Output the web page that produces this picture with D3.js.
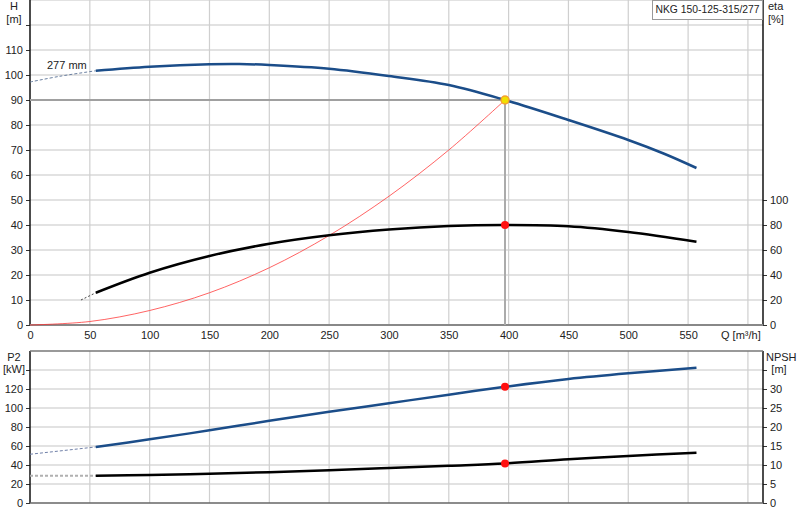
<!DOCTYPE html>
<html>
<head>
<meta charset="utf-8">
<script src="https://cdn.jsdelivr.net/npm/d3@7"></script>
<style>
  body { margin: 0; background: #fff; }
  svg { display: block; font-family: "Liberation Sans", Arial, sans-serif; }
  .lbl { font-size: 11px; fill: #222; }
</style>
</head>
<body>
<svg id="chart" width="800" height="520"></svg>
<script>
// pump model
const pumpName = "NKG 150-125-315/277";
const impeller = "277 mm";

// flow ticks
const qTicks = [0, 50, 100, 150, 200, 250, 300, 350, 400, 450, 500, 550];
const qGrid = [50, 100, 150, 200, 250, 300, 350, 400, 450, 500, 550, 600];

// head curve H [m]
const qHeadDash = [0, 25, 55];
const headDash = [97.2, 99.5, 101.7];
const qHead = [55, 100, 150, 175, 200, 250, 300, 350, 397, 450, 500, 530, 557];
const head = [101.7, 103.3, 104.3, 104.4, 104.0, 102.5, 99.6, 96.0, 90.0, 82.0, 74.0, 68.5, 62.8];

// efficiency eta [%]
const qEtaDash = [42.6, 55];
const etaDash = [20, 25.8];
const qEta = [55, 100, 150, 200, 250, 300, 350, 397, 450, 500, 557];
const eta = [25.8, 41.8, 55.2, 65.0, 71.8, 76.4, 79.2, 80.0, 79.0, 74.4, 66.6];

// system curve H [m]
const qSys = [0, 50, 100, 150, 200, 250, 300, 350, 397];
const hSys = [0, 1.4, 5.8, 12.9, 22.9, 35.8, 51.5, 70.0, 90.0];

// power P2 [kW]
const qP2Dash = [0, 55];
const p2Dash = [51.3, 59.0];
const qP2 = [55, 100, 150, 200, 250, 300, 350, 397, 450, 500, 557];
const p2 = [59.0, 67.0, 76.5, 86.5, 96.0, 105.0, 114.0, 122.3, 130.5, 136.5, 142.3];

// NPSH [m]
const qNpshDash = [0, 55];
const npshDash = [7.2, 7.2];
const qNpsh = [55, 100, 150, 200, 250, 300, 350, 397, 450, 500, 557];
const npsh = [7.2, 7.4, 7.7, 8.1, 8.6, 9.2, 9.8, 10.4, 11.5, 12.4, 13.2];

// duty point
const dutyQ = 397, dutyH = 90, dutyEta = 80, dutyP2 = 122.3, dutyNpsh = 10.4;

const hTicks = [0, 10, 20, 30, 40, 50, 60, 70, 80, 90, 100, 110];
const etaTicks = [0, 20, 40, 60, 80, 100];
const p2Ticks = [0, 20, 40, 60, 80, 100, 120];
const npshTicks = [0, 5, 10, 15, 20, 25, 30];

const svg = d3.select("#chart");
const left = 30, right = 763;
const topT = 0, botT = 325, topB = 351, botB = 503;

const x = d3.scaleLinear().domain([0, 612.6]).range([left, right]);
const yH = d3.scaleLinear().domain([0, 130]).range([botT, topT]);
const yEta = d3.scaleLinear().domain([0, 260]).range([botT, topT]);
const yP2 = d3.scaleLinear().domain([0, 160]).range([botB, topB]);
const yNpsh = d3.scaleLinear().domain([0, 40]).range([botB, topB]);

function zip(a, b) { return a.map((v, i) => [v, b[i]]); }

// grid
function grid(yScale, vals, y0, y1) {
  svg.append("g").selectAll("line").data(vals).join("line")
    .attr("x1", left).attr("x2", right)
    .attr("y1", d => yScale(d)).attr("y2", d => yScale(d))
    .attr("stroke", "#e2e2e2").attr("stroke-width", 2);
  svg.append("g").selectAll("line").data(qGrid).join("line")
    .attr("x1", d => x(d)).attr("x2", d => x(d))
    .attr("y1", y0).attr("y2", y1)
    .attr("stroke", "#cfcfcf").attr("stroke-width", 1.2);
}
grid(yH, d3.range(10, 131, 10), topT, botT);
grid(yP2, d3.range(20, 141, 20), topB, botB);

// axes top
const axT = svg.append("g");
axT.append("g").attr("transform", `translate(${left},0)`)
  .call(d3.axisLeft(yH).tickValues(hTicks.concat([120])).tickSize(4).tickFormat(d => d > 110 ? "" : d));
axT.append("g").attr("transform", `translate(${right},0)`)
  .call(d3.axisRight(yEta).tickValues(etaTicks).tickSize(4));
axT.append("g").attr("transform", `translate(0,${botT})`)
  .call(d3.axisBottom(x).tickValues(qTicks).tickSize(0).tickPadding(6));

// axes bottom
const axB = svg.append("g");
axB.append("g").attr("transform", `translate(${left},0)`)
  .call(d3.axisLeft(yP2).tickValues(p2Ticks.concat([140])).tickSize(4).tickFormat(d => d > 120 ? "" : d));
axB.append("g").attr("transform", `translate(${right},0)`)
  .call(d3.axisRight(yNpsh).tickValues(npshTicks.concat([35])).tickSize(4).tickFormat(d => d > 30 ? "" : d));

svg.selectAll(".tick text").attr("font-size", 11).attr("fill", "#222")
  .attr("font-family", "Liberation Sans, Arial, sans-serif");
svg.selectAll(".domain").remove();
svg.selectAll(".tick line").attr("stroke", "#333");

// axis frame lines
svg.append("line").attr("x1", left).attr("x2", left).attr("y1", topT).attr("y2", botT)
  .attr("stroke", "#111").attr("stroke-width", 1.5);
svg.append("line").attr("x1", right).attr("x2", right).attr("y1", topT).attr("y2", botT)
  .attr("stroke", "#111").attr("stroke-width", 1.5);
svg.append("line").attr("x1", left).attr("x2", right).attr("y1", botT).attr("y2", botT)
  .attr("stroke", "#888").attr("stroke-width", 2);
svg.append("line").attr("x1", left).attr("x2", left).attr("y1", topB).attr("y2", botB)
  .attr("stroke", "#111").attr("stroke-width", 1.5);
svg.append("line").attr("x1", right).attr("x2", right).attr("y1", topB).attr("y2", botB)
  .attr("stroke", "#111").attr("stroke-width", 1.5);
svg.append("line").attr("x1", left).attr("x2", right).attr("y1", topB).attr("y2", topB)
  .attr("stroke", "#777").attr("stroke-width", 1.5);
svg.append("line").attr("x1", left).attr("x2", right).attr("y1", botB).attr("y2", botB)
  .attr("stroke", "#666").attr("stroke-width", 1.5);

// axis titles
function txt(s, tx, ty, anchor) {
  return svg.append("text").attr("class", "lbl").attr("x", tx).attr("y", ty)
    .attr("text-anchor", anchor || "middle").text(s);
}
txt("H", 14, 10); txt("[m]", 14, 23);
txt("eta", 768, 10, "start"); txt("[%]", 768, 23, "start");
txt("P2", 14, 361); txt("[kW]", 14, 373);
txt("NPSH", 766, 361, "start"); txt("[m]", 779, 373);
txt("Q [m³/h]", 721, 339, "start");
txt(impeller, 47, 69, "start");

// duty lines
svg.append("line").attr("x1", left).attr("x2", x(dutyQ))
  .attr("y1", yH(dutyH)).attr("y2", yH(dutyH))
  .attr("stroke", "#a0a0a0").attr("stroke-width", 2);
svg.append("line").attr("x1", x(dutyQ)).attr("x2", x(dutyQ))
  .attr("y1", yH(dutyH)).attr("y2", botT)
  .attr("stroke", "#ababab").attr("stroke-width", 2);

// curves
function curve(xs, ys, yScale, color, width, dash, opacity) {
  const line = d3.line().x(d => x(d[0])).y(d => yScale(d[1])).curve(d3.curveCatmullRom);
  svg.append("path").datum(zip(xs, ys)).attr("d", line)
    .attr("fill", "none").attr("stroke", color).attr("stroke-width", width)
    .attr("stroke-dasharray", dash || null).attr("opacity", opacity || 1);
}
curve(qSys, hSys, yH, "#ff3030", 1, null, 0.75);
curve(qHeadDash, headDash, yH, "#6a7fa0", 1, "3,2");
curve(qHead, head, yH, "#1b4d89", 2.5);
curve(qEtaDash, etaDash, yEta, "#444", 1, "2,2");
curve(qEta, eta, yEta, "#000", 2.5);
curve(qP2Dash, p2Dash, yP2, "#7080a8", 1, "3,2");
curve(qP2, p2, yP2, "#1b4d89", 2.5);
curve(qNpshDash, npshDash, yNpsh, "#b0b0b0", 2, "3,2");
curve(qNpsh, npsh, yNpsh, "#000", 2.5);

// duty markers
svg.append("circle").attr("cx", x(dutyQ)).attr("cy", yH(dutyH)).attr("r", 4)
  .attr("fill", "#f0e000").attr("stroke", "#f5a030").attr("stroke-width", 1.5);
[[yEta, dutyEta], [yP2, dutyP2], [yNpsh, dutyNpsh]].forEach(([s, v]) => {
  svg.append("circle").attr("cx", x(dutyQ)).attr("cy", s(v)).attr("r", 4).attr("fill", "#ff1010");
});

// name box
svg.append("rect").attr("x", 652.5).attr("y", 0.5).attr("width", 110).attr("height", 19)
  .attr("fill", "#fff").attr("stroke", "#999");
txt(pumpName, 655.5, 13, "start")
  .attr("textLength", 104).attr("lengthAdjust", "spacingAndGlyphs");
</script>
</body>
</html>
